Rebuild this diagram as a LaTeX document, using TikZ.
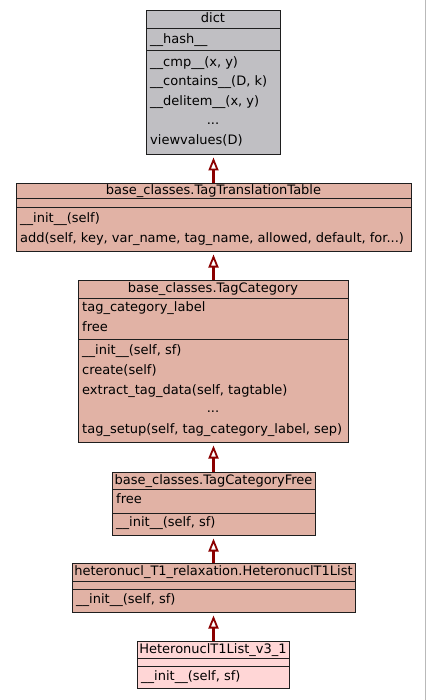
\documentclass[tikz,border=0pt]{standalone}
\usepackage{fontspec}
\setmainfont{DejaVu Sans}
\usetikzlibrary{arrows.meta}
\definecolor{dictfill}{RGB}{192,191,195}
\definecolor{basefill}{RGB}{225,178,165}
\definecolor{leaffill}{RGB}{255,214,214}
\definecolor{edgered}{RGB}{139,0,0}
\definecolor{boxline}{RGB}{30,30,30}
\begin{document}
\begin{tikzpicture}[x=1pt,y=-1pt,
 box/.style={draw=boxline, line width=1pt, inner sep=0, anchor=north west},
 sepline/.style={draw=boxline, line width=1pt},
 lbl/.style={inner sep=0, anchor=west, font=\fontsize{13}{15}\selectfont, text height=9.5pt, text depth=2.5pt},
 ttl/.style={lbl, anchor=center},
 inherit/.style={draw=edgered, line width=2.2pt, -{Triangle[open, length=13pt, width=10pt, line width=1.8pt]}, shorten >=2.5pt}]
\useasboundingbox (0,0) rectangle (427,700);
\draw[gray!55, line width=1pt] (425.5,0) -- (425.5,700);

% dict
\node[box, fill=dictfill, minimum width=134pt, minimum height=144pt] (dict) at (146,10) {};
\draw[sepline] (146,29) -- (280,29);
\draw[sepline] (146,51) -- (280,51);
\node[ttl] (dictT) at (213,19.5) {dict};
\node[lbl] (dictA1) at (150,40) {\_\_hash\_\_};
\node[lbl] (dictM1) at (150,63) {\_\_cmp\_\_(x, y)};
\node[lbl] (dictM2) at (150,82) {\_\_contains\_\_(D, k)};
\node[lbl] (dictM3) at (150,102) {\_\_delitem\_\_(x, y)};
\node[ttl] (dictM4) at (213,121) {...};
\node[lbl] (dictM5) at (150,141) {viewvalues(D)};

% TagTranslationTable
\node[box, fill=basefill, minimum width=395pt, minimum height=68pt] (ttt) at (16,183) {};
\draw[sepline] (16,199) -- (411,199);
\draw[sepline] (16,208) -- (411,208);
\node[ttl] (tttT) at (213.5,191) {base\_classes.TagTranslationTable};
\node[lbl] (tttM1) at (20,219) {\_\_init\_\_(self)};
\node[lbl] (tttM2) at (20,239) {add(self, key, var\_name, tag\_name, allowed, default, for...)};

% TagCategory
\node[box, fill=basefill, minimum width=270pt, minimum height=162pt] (tc) at (78,280) {};
\draw[sepline] (78,298) -- (348,298);
\draw[sepline] (78,339) -- (348,339);
\node[ttl] (tcT) at (213,289) {base\_classes.TagCategory};
\node[lbl] (tcA1) at (82,308) {tag\_category\_label};
\node[lbl] (tcA2) at (82,328) {free};
\node[lbl] (tcM1) at (82,351) {\_\_init\_\_(self, sf)};
\node[lbl] (tcM2) at (82,371) {create(self)};
\node[lbl] (tcM3) at (82,391) {extract\_tag\_data(self, tagtable)};
\node[ttl] (tcM4) at (213,409) {...};
\node[lbl] (tcM5) at (82,430) {tag\_setup(self, tag\_category\_label, sep)};

% TagCategoryFree
\node[box, fill=basefill, minimum width=203pt, minimum height=63pt] (tcf) at (112,472) {};
\draw[sepline] (112,489) -- (315,489);
\draw[sepline] (112,513) -- (315,513);
\node[ttl] (tcfT) at (213.5,480.5) {base\_classes.TagCategoryFree};
\node[lbl] (tcfA1) at (116,500) {free};
\node[lbl] (tcfM1) at (116,523) {\_\_init\_\_(self, sf)};

% heteronucl_T1_relaxation.HeteronuclT1List
\node[box, fill=basefill, minimum width=283pt, minimum height=49pt] (htl) at (72,563) {};
\draw[sepline] (72,581) -- (355,581);
\draw[sepline] (72,589) -- (355,589);
\node[ttl] (htlT) at (213.5,572) {heteronucl\_T1\_relaxation.HeteronuclT1List};
\node[lbl] (htlM1) at (76,600) {\_\_init\_\_(self, sf)};

% HeteronuclT1List_v3_1
\node[box, fill=leaffill, minimum width=152pt, minimum height=47pt] (v31) at (137,641) {};
\draw[sepline] (137,658) -- (289,658);
\draw[sepline] (137,666) -- (289,666);
\node[ttl] (v31T) at (213,649.5) {HeteronuclT1List\_v3\_1};
\node[lbl] (v31M1) at (141,677) {\_\_init\_\_(self, sf)};

% inheritance
\coordinate (ax) at (213.5,0);
\draw[inherit] (ttt.north -| ax) -- (dict.south -| ax);
\draw[inherit] (tc.north -| ax) -- (ttt.south -| ax);
\draw[inherit] (tcf.north -| ax) -- (tc.south -| ax);
\draw[inherit] (htl.north -| ax) -- (tcf.south -| ax);
\draw[inherit] (v31.north -| ax) -- (htl.south -| ax);
\end{tikzpicture}
\end{document}
